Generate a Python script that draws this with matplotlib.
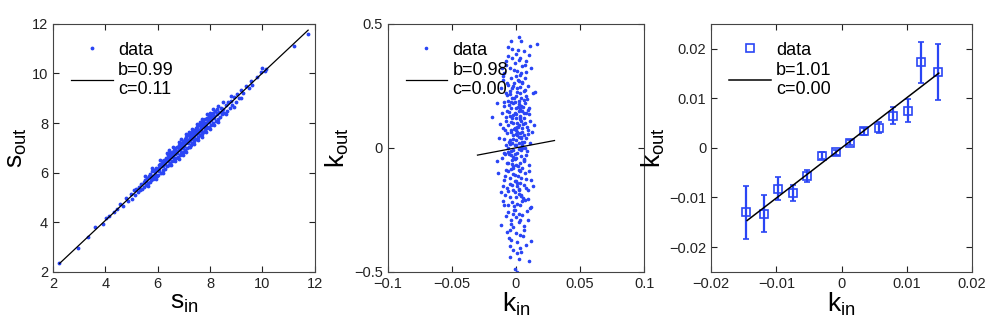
import matplotlib.pyplot as plt
from matplotlib.ticker import FuncFormatter

plt.rcParams['font.family'] = ['Liberation Sans', 'DejaVu Sans']
plt.rcParams['mathtext.default'] = 'regular'

BLUE = '#2a45f5'

# panel 1: strength in/out
s_in = [2.25, 2.95, 3.35, 3.62, 3.9, 4.02, 4.15, 4.32, 4.45,
        4.58, 4.68, 4.81, 4.88, 4.97, 5.03, 5.08, 5.14, 5.19, 5.24, 5.27, 5.33, 5.38, 5.41,
        5.46, 5.49, 5.53, 5.57, 5.6, 5.63, 5.66, 5.69, 5.72, 5.75, 5.77, 5.8, 5.83, 5.86,
        5.88, 5.91, 5.94, 5.96, 5.99, 6.02, 6.04, 6.07, 6.1, 6.12, 6.15, 6.17, 6.2, 6.22,
        6.25, 6.27, 6.3, 6.32, 6.35, 6.37, 6.4, 6.42, 6.44, 6.47, 6.49, 6.52, 6.54, 6.56,
        6.59, 6.61, 6.63, 6.66, 6.68, 6.7, 6.73, 6.75, 6.77, 6.8, 6.82, 6.84, 6.87, 6.89,
        6.91, 6.94, 6.96, 6.98, 7.01, 7.03, 7.05, 7.08, 7.1, 7.12, 7.15, 7.17, 7.19, 7.22,
        7.24, 7.26, 7.29, 7.31, 7.33, 7.36, 7.38, 7.4, 7.43, 7.45, 7.47, 7.5, 7.52, 7.54,
        7.57, 7.59, 7.61, 7.64, 7.66, 7.68, 7.71, 7.73, 7.75, 7.78, 7.8, 7.82, 7.85, 7.87,
        7.9, 7.92, 7.95, 7.97, 8.0, 8.03, 8.05, 8.08, 8.1, 8.13, 8.16, 8.19, 8.22, 8.25,
        8.28, 8.31, 8.34, 8.38, 8.42, 8.46, 8.5, 8.55, 8.6, 8.65, 8.7, 8.75, 8.8, 8.86,
        8.92, 8.98, 9.05, 9.12, 9.2, 9.28, 9.38, 9.48, 9.55, 9.62, 9.78, 9.95,
        10.0, 10.1, 10.15, 11.2, 11.75,
        6.5, 6.6, 6.7, 6.85, 6.95, 7.05, 7.15, 7.25, 7.35, 7.45, 7.55, 7.65, 7.75, 7.85,
        7.95, 8.05, 6.3, 6.2, 6.0, 5.9, 7.0, 7.2, 7.4, 6.4, 6.75, 7.6, 7.8, 8.15,
        6.1, 6.35, 6.6, 6.9, 7.1, 7.3, 7.5, 7.7, 7.9, 8.1, 8.3, 6.45, 6.8, 7.2, 7.6, 8.0,
        5.8, 5.5, 8.5, 8.8,
        6.2, 6.5, 6.8, 7.1, 7.4, 7.7, 8.0, 8.3, 8.6, 6.65, 6.95, 7.25, 7.55, 7.85, 8.15,
        5.95, 5.65, 8.9, 9.2,
        6.05, 6.25, 6.45, 6.65, 6.85, 7.05, 7.25, 7.45, 7.65, 7.85, 8.05, 8.25, 8.45, 5.55, 5.75]
s_out = [2.37, 2.98, 3.4, 3.82, 3.92, 4.18, 4.25, 4.4, 4.52,
         4.72, 4.66, 4.98, 4.85, 5.12, 4.95, 5.28, 5.1, 5.35, 5.2, 5.42, 5.29, 5.55, 5.35,
         5.62, 5.43, 5.72, 5.5, 5.78, 5.58, 5.88, 5.64, 5.95, 5.7, 5.86, 6.05, 5.76, 6.1,
         5.82, 6.02, 6.2, 5.88, 6.15, 5.92, 6.3, 6.05, 6.35, 6.0, 6.28, 6.45, 6.1, 6.38,
         6.52, 6.15, 6.44, 6.6, 6.25, 6.5, 6.7, 6.3, 6.56, 6.78, 6.38, 6.62, 6.85, 6.45,
         6.72, 6.9, 6.5, 6.8, 6.98, 6.58, 6.88, 7.05, 6.65, 6.95, 7.12, 6.72, 7.02, 7.2,
         6.78, 7.08, 7.28, 6.85, 7.15, 7.35, 6.92, 7.22, 7.42, 7.0, 7.3, 7.5, 7.05, 7.38,
         7.55, 7.12, 7.45, 7.62, 7.2, 7.52, 7.7, 7.28, 7.6, 7.78, 7.35, 7.68, 7.85, 7.42,
         7.72, 7.92, 7.5, 7.8, 8.0, 7.55, 7.88, 8.08, 7.62, 7.95, 8.15, 7.7, 8.02, 8.2,
         7.78, 8.08, 8.28, 7.85, 8.15, 8.35, 7.92, 8.22, 8.42, 8.0, 8.3, 8.5, 8.08, 8.38,
         8.55, 8.15, 8.45, 8.25, 8.6, 8.35, 8.55, 8.4, 8.72, 8.5, 8.85, 8.6, 8.9, 8.72,
         9.05, 8.85, 9.15, 9.02, 9.35, 9.2, 9.5, 9.4, 9.7, 9.52, 9.85, 10.05,
         10.2, 10.1, 10.18, 11.1, 11.6,
         6.66, 6.62, 6.82, 6.9, 7.0, 7.18, 7.2, 7.4, 7.36, 7.55, 7.6, 7.7, 7.9, 7.88,
         8.05, 8.12, 6.35, 6.28, 6.1, 5.95, 7.08, 7.28, 7.48, 6.48, 6.78, 7.66, 7.85, 8.2,
         6.5, 6.78, 7.05, 7.35, 7.55, 7.75, 7.95, 8.15, 8.35, 8.55, 8.7, 6.9, 7.25, 7.62, 8.05, 8.42,
         6.2, 5.85, 8.85, 9.1,
         6.0, 6.3, 6.55, 6.85, 7.15, 7.45, 7.75, 8.05, 8.35, 6.45, 6.72, 7.02, 7.3, 7.62, 7.92,
         5.75, 5.45, 8.65, 9.0,
         6.2, 6.4, 6.6, 6.75, 7.0, 7.25, 7.3, 7.65, 7.8, 8.0, 8.25, 8.4, 8.5, 5.65, 5.82]
b1, c1 = 0.99, 0.11
fit1_x = [2.25, 11.75]

# panel 2: degree in/out correlation
k_in = [0.002, 0.004, -0.004, 0.016, 0.011, -0.003, 0.006, -0.006, 0.0, 0.003, -0.008, 0.008,
        -0.001, 0.005, -0.005, 0.012, 0.001, -0.009, 0.004,
        -0.01, 0.0, 0.007, -0.004, 0.002, -0.007, 0.005, -0.002, 0.009, -0.012, 0.001, 0.006,
        -0.005, 0.003, 0.013, -0.008, 0.0, -0.003, 0.004, 0.008,
        -0.015, -0.006, 0.002, 0.007, -0.002, 0.004, -0.009, 0.0, 0.01, -0.004, 0.005, -0.007,
        0.002, -0.001, 0.008, -0.011, 0.003, -0.005, 0.006, -0.0187, 0.0, -0.003, 0.011, 0.004,
        -0.008, 0.001, -0.002, 0.007,
        0.014, -0.006, 0.002, -0.001, 0.005, -0.01, 0.009, 0.0, -0.004, 0.003, -0.007, 0.006,
        -0.002, 0.001, -0.013, 0.008, 0.004, -0.005, 0.0, 0.011, -0.003, 0.002, -0.008, 0.005,
        -0.001, 0.007, -0.006, 0.003,
        -0.002, 0.004, -0.009, 0.001, 0.008, -0.004, 0.0, -0.011, 0.006, -0.003, 0.003, -0.006,
        0.01, 0.0, -0.002, 0.005, -0.008, 0.002, -0.014, 0.007,
        -0.001, -0.005, 0.004, 0.012, -0.009, 0.001, -0.003, 0.006, -0.007, 0.002, 0.009,
        -0.001, -0.012, 0.004, -0.005, 0.0,
        0.007, -0.003, -0.009, 0.003, 0.012, -0.001, -0.006, 0.005, 0.0, -0.004, 0.009, 0.002,
        -0.012, -0.002, 0.006, -0.007, 0.003, -0.004, 0.001, 0.008, -0.002, 0.004, -0.005,
        0.002, 0.01, -0.001, 0.001,
        0.001, -0.002, 0.003, -0.004, 0.005, -0.001, 0.002, -0.006, 0.004, 0.0, -0.003, 0.006,
        0.001, -0.002, 0.003, -0.005, 0.002, 0.0, -0.001, 0.004,
        -0.0065, 0.0035, 0.0085, -0.0035, 0.0015, -0.0075, 0.0055, -0.0015, 0.0095, -0.0095,
        0.0025, -0.0055, 0.0065, -0.0025, 0.0035, -0.0085, 0.0075, -0.0045, 0.0005, -0.0065,
        0.0045, -0.0015, 0.0085, -0.0075, 0.0025, -0.0035, 0.0065, 0.0, -0.0055, 0.0115,
        0.0035, -0.0045, 0.0105, -0.0065, 0.0025, -0.0105, 0.0145, -0.0125, 0.0125, -0.0145,
        0.0135, -0.0105, 0.0105, -0.0095, 0.0035, -0.0025, 0.0045, -0.0005, 0.0015, -0.0035,
        0.0055, -0.0045, 0.0015, -0.0015, 0.0075, 0.0005, -0.0055, 0.0065, -0.0065, 0.0025,
        0.0095, -0.0025, 0.0055, -0.0085, 0.0085, -0.0005, 0.0005, 0.0045, -0.0075, 0.0015,
        -0.0042, 0.0062, -0.0012, 0.0032, -0.0072, 0.0082, -0.0022, 0.0012, -0.0052, 0.0052,
        -0.0032, 0.0072, 0.0022, -0.0082, 0.0102, -0.0062, 0.0042, -0.0002, 0.0092, -0.0102,
        0.0002, -0.0042, 0.0062, -0.0012, 0.0032, -0.0072, 0.0112, -0.0022, 0.0018, -0.0058,
        0.0048, -0.0088, 0.0078, -0.0018, 0.0028, -0.0048, 0.0068, -0.0028, 0.0008, -0.0108]
k_out = [0.445, 0.43, 0.43, 0.42, 0.41, 0.4, 0.39, 0.37, 0.38, 0.36, 0.35, 0.35,
         0.34, 0.33, 0.32, 0.32, 0.31, 0.3, 0.3,
         0.29, 0.29, 0.28, 0.28, 0.27, 0.26, 0.26, 0.25, 0.25, 0.24, 0.24, 0.23,
         0.23, 0.22, 0.22, 0.22, 0.21, 0.2, 0.2, 0.21,
         0.18, 0.19, 0.19, 0.18, 0.18, 0.17, 0.17, 0.16, 0.16, 0.16, 0.15, 0.15,
         0.15, 0.14, 0.14, 0.14, 0.13, 0.13, 0.12, 0.123, 0.12, 0.12, 0.11, 0.11,
         0.11, 0.1, 0.1, 0.1,
         0.09, 0.09, 0.09, 0.08, 0.08, 0.08, 0.07, 0.07, 0.07, 0.06, 0.06, 0.05,
         0.05, 0.05, 0.04, 0.04, 0.04, 0.03, 0.03, 0.02, 0.02, 0.02, 0.01, 0.01,
         0.01, 0.0, 0.0, 0.0,
         -0.01, -0.01, -0.02, -0.02, -0.03, -0.03, -0.04, -0.04, -0.05, -0.05, -0.06, -0.06,
         -0.07, -0.07, -0.08, -0.08, -0.09, -0.09, -0.1, -0.1,
         -0.11, -0.12, -0.12, -0.13, -0.13, -0.14, -0.15, -0.15, -0.16, -0.17, -0.17,
         -0.18, -0.18, -0.19, -0.2, -0.2,
         -0.21, -0.22, -0.23, -0.23, -0.24, -0.25, -0.26, -0.27, -0.28, -0.29, -0.29, -0.3,
         -0.31, -0.32, -0.33, -0.34, -0.35, -0.37, -0.38, -0.39, -0.41, -0.42, -0.44,
         -0.45, -0.455, -0.49, -0.5,
         0.065, -0.035, 0.115, -0.085, 0.025, -0.135, 0.175, -0.015, 0.045, 0.135, -0.065,
         -0.045, 0.085, -0.105, 0.155, 0.015, -0.165, 0.055, -0.025, -0.195,
         0.255, 0.245, 0.195, 0.185, 0.165, 0.125, 0.095, 0.075, 0.055, 0.035,
         -0.005, -0.025, -0.055, -0.075, -0.095, -0.115, -0.125, -0.145, -0.155, -0.175,
         -0.215, -0.235, -0.255, -0.275, -0.265, -0.305, -0.315, -0.345, -0.365, -0.375,
         -0.405, -0.395, 0.375, 0.405, 0.355, 0.275, 0.225, 0.095, 0.065, -0.055,
         -0.155, -0.215, 0.135, 0.185, 0.125, 0.035, 0.0, -0.045, -0.115, 0.105,
         0.165, 0.215, 0.275, 0.315, 0.305, 0.225, 0.145, 0.025, -0.095, -0.185,
         -0.205, -0.265, -0.355, -0.025, 0.085, 0.185, -0.225, 0.265, 0.335, 0.395,
         0.062, 0.142, 0.202, -0.142, -0.062, -0.012, -0.172, 0.082, 0.172, -0.202,
         0.242, 0.232, 0.042, 0.072, -0.092, -0.232, -0.032, -0.132, 0.152, -0.152,
         0.012, -0.012, 0.192, -0.252, 0.292, 0.212, -0.242, 0.132, -0.072, 0.022,
         0.062, -0.192, -0.162, 0.262, -0.292, -0.332, 0.332, 0.362, -0.422, 0.322]
b2, c2 = 0.98, 0.00
fit2_x = [-0.03, 0.03]

# panel 3: binned degree correlation with error bars
bin_in = [-0.0147, -0.01185, -0.0097, -0.00746, -0.00536, -0.00307, -0.00087,
          0.00133, 0.00347, 0.00572, 0.00787, 0.01011, 0.01211, 0.01471]
bin_out = [-0.0130, -0.0133, -0.00826, -0.00913, -0.0057, -0.00161, -0.00094,
           0.00107, 0.00329, 0.00409, 0.00651, 0.00752, 0.01725, 0.01523]
bin_err = [0.0054, 0.0037, 0.0023, 0.0016, 0.0012, 0.0007, 0.0005,
           0.0005, 0.0008, 0.0012, 0.0017, 0.0024, 0.0041, 0.0056]
b3, c3 = 1.01, 0.00
fit3_x = [-0.0145, 0.0149]


def fmt(v, pos):
    return ('%g' % round(v, 6)).replace('-', '\u2212')


def style(ax, xlim, ylim, xticks, yticks, xlabel, ylabel):
    ax.set_xlim(xlim)
    ax.set_ylim(ylim)
    ax.set_xticks(xticks)
    ax.set_yticks(yticks)
    ax.xaxis.set_major_formatter(FuncFormatter(fmt))
    ax.yaxis.set_major_formatter(FuncFormatter(fmt))
    ax.tick_params(direction='in', top=True, right=True, length=4, width=0.8,
                   labelsize=10.5, colors='#222222')
    for sp in ax.spines.values():
        sp.set_linewidth(0.8)
        sp.set_color('#444444')
    ax.set_xlabel(xlabel, fontsize=19, labelpad=0)
    ax.set_ylabel(ylabel, fontsize=19, labelpad=2)
    ax.legend(loc='upper left', bbox_to_anchor=(0.0, 1.0), frameon=False, fontsize=13,
              handlelength=2.3, handletextpad=0.3, borderpad=0.2, borderaxespad=0.8,
              labelspacing=0.15)


fig = plt.figure(figsize=(9.99, 3.21), dpi=100)
ax1 = fig.add_axes([0.053, 0.153, 0.262, 0.773])
ax2 = fig.add_axes([0.388, 0.153, 0.257, 0.773])
ax3 = fig.add_axes([0.712, 0.153, 0.261, 0.773])

ax1.plot(s_in, s_out, '.', color=BLUE, markersize=3.5, label='data')
ax1.plot(fit1_x, [b1 * x + c1 for x in fit1_x], color='black', lw=0.9,
         label='b=%.2f\nc=%.2f' % (b1, c1))
style(ax1, (2, 12), (2, 12), [2, 4, 6, 8, 10, 12], [2, 4, 6, 8, 10, 12],
      '$s_{in}$', '$s_{out}$')

ax2.plot(k_in, k_out, '.', color=BLUE, markersize=3.2, label='data')
ax2.plot(fit2_x, [b2 * x + c2 for x in fit2_x], color='black', lw=0.9,
         label='b=%.2f\nc=%.2f' % (b2, c2))
style(ax2, (-0.1, 0.1), (-0.5, 0.5), [-0.1, -0.05, 0, 0.05, 0.1], [-0.5, 0, 0.5],
      '$k_{in}$', '$k_{out}$')

ax3.errorbar(bin_in, bin_out, yerr=bin_err, fmt='none', ecolor=BLUE,
             elinewidth=1.6, capsize=2, capthick=1.2)
ax3.plot(bin_in, bin_out, 's', color=BLUE, mfc='none', markersize=6, mew=1.2,
         label='data')
ax3.plot(fit3_x, [b3 * x + c3 for x in fit3_x], color='black', lw=1.1,
         label='b=%.2f\nc=%.2f' % (b3, c3))
style(ax3, (-0.02, 0.02), (-0.025, 0.025), [-0.02, -0.01, 0, 0.01, 0.02],
      [-0.02, -0.01, 0, 0.01, 0.02], '$k_{in}$', '$k_{out}$')

fig.savefig('out.png', dpi=100)
